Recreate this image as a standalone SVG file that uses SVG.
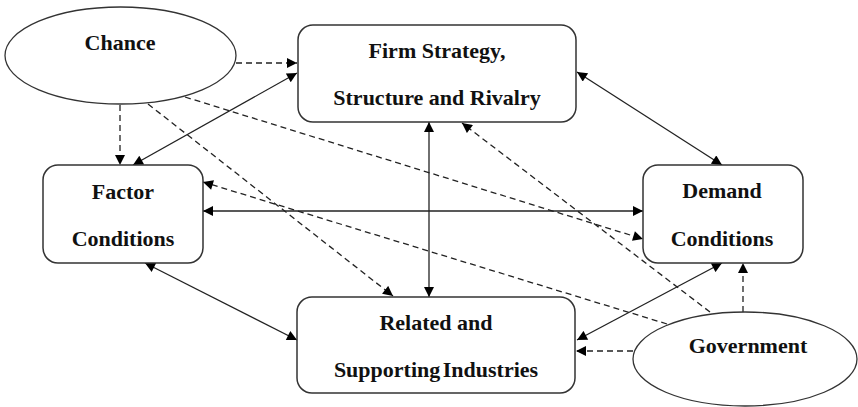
<svg xmlns="http://www.w3.org/2000/svg" width="858" height="407" viewBox="0 0 858 407">
  <defs>
    <marker id="arrow" viewBox="0 0 10 10" refX="10" refY="5" markerWidth="11" markerHeight="10" markerUnits="userSpaceOnUse" orient="auto-start-reverse">
      <path d="M0,0 L10,5 L0,10 Z" fill="#000"/>
    </marker>
    <style>
      .box { fill: #fff; stroke: #333; stroke-width: 1.5; }
      .oval { fill: #fff; stroke: #333; stroke-width: 1.3; }
      .label { font-size: 22px; font-weight: bold; fill: #111; text-anchor: middle; }
      .solid { fill: none; stroke: #222; stroke-width: 1.3; marker-start: url(#arrow); marker-end: url(#arrow); }
      .dashed { fill: none; stroke: #222; stroke-width: 1.3; stroke-dasharray: 6 4; marker-end: url(#arrow); }
    </style>
  </defs>
  <rect width="858" height="407" fill="#fff"/>

  <!-- connectors -->
  <g id="connectors">
    <!-- two-way links between the four determinants -->
    <line class="solid" x1="133" y1="165" x2="297" y2="73"/>
    <line class="solid" x1="577" y1="72" x2="722" y2="165"/>
    <line class="solid" x1="429" y1="122" x2="429" y2="297"/>
    <line class="solid" x1="203" y1="211" x2="643" y2="211"/>
    <line class="solid" x1="145" y1="263" x2="297" y2="340"/>
    <line class="solid" x1="722" y1="263" x2="577" y2="340"/>
    <!-- influence of chance -->
    <line class="dashed" x1="236" y1="63" x2="297" y2="63"/>
    <line class="dashed" x1="120" y1="105" x2="120" y2="165"/>
    <line class="dashed" x1="148" y1="104" x2="393" y2="296"/>
    <line class="dashed" x1="185" y1="97" x2="643" y2="239"/>
    <!-- influence of government -->
    <line class="dashed" x1="710" y1="312" x2="462" y2="123"/>
    <line class="dashed" x1="667" y1="324" x2="203" y2="182"/>
    <line class="dashed" x1="633" y1="351" x2="576" y2="351"/>
    <line class="dashed" x1="743" y1="312" x2="743" y2="263"/>
  </g>

  <g font-family="Liberation Serif, DejaVu Serif, serif">
    <g id="chance">
      <ellipse class="oval" cx="120.5" cy="55.5" rx="115.5" ry="48.5"/>
      <text class="label" x="120" y="50">Chance</text>
    </g>

    <g id="firm-strategy">
      <rect class="box" x="298" y="25" width="278" height="97" rx="15"/>
      <text class="label" x="437" y="58">Firm Strategy,</text>
      <text class="label" x="437" y="105">Structure and Rivalry</text>
    </g>

    <g id="factor-conditions">
      <rect class="box" x="43" y="165" width="160" height="98" rx="15"/>
      <text class="label" x="123" y="199">Factor</text>
      <text class="label" x="123" y="246">Conditions</text>
    </g>

    <g id="demand-conditions">
      <rect class="box" x="643" y="165" width="160" height="98" rx="15"/>
      <text class="label" x="722" y="198">Demand</text>
      <text class="label" x="722" y="246">Conditions</text>
    </g>

    <g id="related-industries">
      <rect class="box" x="297" y="297" width="278" height="96" rx="15"/>
      <text class="label" x="436" y="330">Related and</text>
      <text class="label" x="436" y="377" word-spacing="-3">Supporting Industries</text>
    </g>

    <g id="government">
      <ellipse class="oval" cx="745" cy="359" rx="112" ry="47"/>
      <text class="label" x="748" y="353">Government</text>
    </g>
  </g>
</svg>
